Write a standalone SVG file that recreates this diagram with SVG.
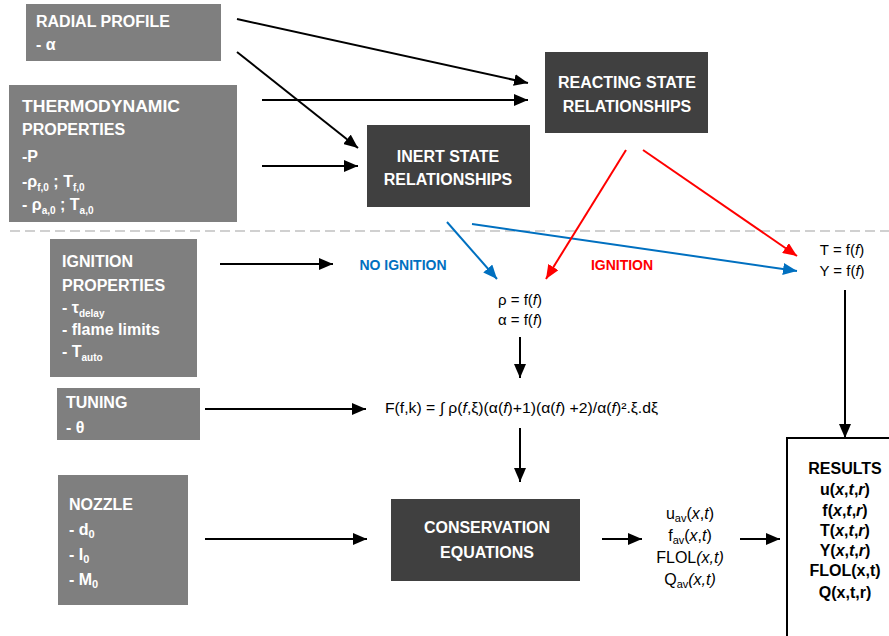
<svg xmlns="http://www.w3.org/2000/svg" width="889" height="636" viewBox="0 0 889 636">
  <style>
    .in { fill: #7f7f7f; }
    .st { fill: #404040; }
    .lbl { font-family: "Liberation Sans", Arial, sans-serif; font-weight: bold; font-size: 16px; fill: #ffffff; }
    .ctr { text-anchor: middle; }
    .eq { font-family: "Liberation Sans", Arial, sans-serif; font-size: 15px; fill: #000000; text-anchor: middle; }
    .out { font-size: 16px; }
    .res { font-family: "Liberation Sans", Arial, sans-serif; font-weight: bold; font-size: 16px; fill: #000000; text-anchor: middle; }
    .k { stroke: #000000; stroke-width: 2; fill: none; marker-end: url(#ak); }
    .b { stroke: #0070C0; stroke-width: 2; fill: none; marker-end: url(#ab); }
    .r { stroke: #FF0000; stroke-width: 2; fill: none; marker-end: url(#ar); }
    .it { font-style: italic; }
  </style>
  <defs>
    <marker id="ak" markerUnits="userSpaceOnUse" markerWidth="14" markerHeight="12" refX="14" refY="6" orient="auto">
      <path d="M0,0 L14,6 L0,12 z" fill="#000000"/>
    </marker>
    <marker id="ab" markerUnits="userSpaceOnUse" markerWidth="14" markerHeight="12" refX="14" refY="6" orient="auto">
      <path d="M0,0 L14,6 L0,12 z" fill="#0070C0"/>
    </marker>
    <marker id="ar" markerUnits="userSpaceOnUse" markerWidth="14" markerHeight="12" refX="14" refY="6" orient="auto">
      <path d="M0,0 L14,6 L0,12 z" fill="#FF0000"/>
    </marker>
  </defs>

  <rect width="889" height="636" fill="#ffffff"/>

  <!-- separator between state relations and the rest -->
  <line x1="10" y1="231" x2="889" y2="231" stroke="#d0d0d0" stroke-width="2" stroke-dasharray="10 5"/>

  <!-- input blocks -->
  <g id="radial-profile">
    <rect class="in" x="26" y="4" width="195" height="57"/>
    <text class="lbl" x="36" y="27">RADIAL PROFILE</text>
    <text class="lbl" x="36" y="50">- α</text>
  </g>

  <g id="thermodynamic-properties">
    <rect class="in" x="9" y="85" width="228" height="137"/>
    <text class="lbl" x="22" y="112" textLength="158" lengthAdjust="spacingAndGlyphs">THERMODYNAMIC</text>
    <text class="lbl" x="22" y="135">PROPERTIES</text>
    <text class="lbl" x="22" y="162">-P</text>
    <text class="lbl" x="22" y="187" font-size="15">-ρ<tspan font-size="10" dy="4">f,0</tspan><tspan dy="-4"> ; T</tspan><tspan font-size="10" dy="4">f,0</tspan></text>
    <text class="lbl" x="22" y="210" font-size="15">- ρ<tspan font-size="10" dy="4">a,0</tspan><tspan dy="-4"> ; T</tspan><tspan font-size="10" dy="4">a,0</tspan></text>
  </g>

  <g id="ignition-properties">
    <rect class="in" x="50" y="239" width="147" height="138"/>
    <text class="lbl" x="62" y="267">IGNITION</text>
    <text class="lbl" x="62" y="291">PROPERTIES</text>
    <text class="lbl" x="62" y="313">- τ<tspan font-size="10" dy="4">delay</tspan></text>
    <text class="lbl" x="62" y="335" font-size="17">- flame limits</text>
    <text class="lbl" x="62" y="357">- T<tspan font-size="10" dy="4">auto</tspan></text>
  </g>

  <g id="tuning">
    <rect class="in" x="57" y="388" width="143" height="52"/>
    <text class="lbl" x="66" y="408">TUNING</text>
    <text class="lbl" x="66" y="433">- θ</text>
  </g>

  <g id="nozzle">
    <rect class="in" x="58" y="475" width="130" height="130"/>
    <text class="lbl" x="69" y="510">NOZZLE</text>
    <text class="lbl" x="69" y="535">- d<tspan font-size="11" dy="3">0</tspan></text>
    <text class="lbl" x="69" y="560">- I<tspan font-size="11" dy="3">0</tspan></text>
    <text class="lbl" x="69" y="585">- M<tspan font-size="11" dy="3">0</tspan></text>
  </g>

  <!-- state relationship and solver blocks -->
  <g id="reacting-state">
    <rect class="st" x="545" y="52" width="163" height="81"/>
    <text class="lbl ctr" x="627" y="88">REACTING STATE</text>
    <text class="lbl ctr" x="627" y="112">RELATIONSHIPS</text>
  </g>

  <g id="inert-state">
    <rect class="st" x="367" y="125" width="163" height="82"/>
    <text class="lbl ctr" x="448" y="162">INERT STATE</text>
    <text class="lbl ctr" x="448" y="185">RELATIONSHIPS</text>
  </g>

  <g id="conservation-equations">
    <rect class="st" x="391" y="499" width="189" height="82"/>
    <text class="lbl ctr" x="487" y="533" font-size="17">CONSERVATION</text>
    <text class="lbl ctr" x="487" y="558" font-size="17">EQUATIONS</text>
  </g>

  <!-- intermediate relations -->
  <g id="mixture-relations">
    <text class="eq" x="520" y="305">ρ = f(<tspan class="it">f</tspan>)</text>
    <text class="eq" x="520" y="325">α = f(<tspan class="it">f</tspan>)</text>
  </g>

  <g id="thermo-relations">
    <text class="eq" x="842" y="255">T = f(<tspan class="it">f</tspan>)</text>
    <text class="eq" x="842" y="276">Y = f(<tspan class="it">f</tspan>)</text>
  </g>

  <g id="kernel">
    <text class="eq" x="385" y="413" style="text-anchor:start" textLength="273" lengthAdjust="spacingAndGlyphs">F(f,k) = ∫ ρ(<tspan class="it">f</tspan>,ξ)(α(<tspan class="it">f</tspan>)+1)(α(<tspan class="it">f</tspan>) +2)/α(<tspan class="it">f</tspan>)².ξ.dξ</text>
  </g>

  <g id="averaged-outputs">
    <text class="eq out" x="690" y="519">u<tspan font-size="11" dy="3">av</tspan><tspan dy="-3">(</tspan><tspan class="it">x</tspan>,<tspan class="it">t</tspan>)</text>
    <text class="eq out" x="690" y="541">f<tspan font-size="11" dy="3">av</tspan><tspan dy="-3">(</tspan><tspan class="it">x</tspan>,<tspan class="it">t</tspan>)</text>
    <text class="eq out" x="690" y="563">FLOL<tspan class="it">(x,t)</tspan></text>
    <text class="eq out" x="690" y="585">Q<tspan font-size="11" dy="3">av</tspan><tspan class="it" dy="-3">(x,t)</tspan></text>
  </g>

  <g id="results">
    <rect x="787" y="438" width="110" height="210" fill="#ffffff" stroke="#000000" stroke-width="2"/>
    <text class="res" x="845" y="474">RESULTS</text>
    <text class="res" x="845" y="495">u(<tspan class="it">x</tspan>,<tspan class="it">t</tspan>,<tspan class="it">r</tspan>)</text>
    <text class="res" x="845" y="516">f(<tspan class="it">x</tspan>,<tspan class="it">t</tspan>,<tspan class="it">r</tspan>)</text>
    <text class="res" x="845" y="536">T(<tspan class="it">x</tspan>,<tspan class="it">t</tspan>,<tspan class="it">r</tspan>)</text>
    <text class="res" x="845" y="556">Y(<tspan class="it">x</tspan>,<tspan class="it">t</tspan>,<tspan class="it">r</tspan>)</text>
    <text class="res" x="845" y="576">FLOL(x,t)</text>
    <text class="res" x="845" y="598">Q(x,t,r)</text>
  </g>

  <!-- connectors -->
  <g id="connectors">
    <line class="k" x1="237" y1="19" x2="528" y2="83"/>
    <line class="k" x1="237" y1="52" x2="358" y2="148"/>
    <line class="k" x1="262" y1="100" x2="528" y2="100"/>
    <line class="k" x1="262" y1="166" x2="358" y2="166"/>
    <line class="k" x1="220" y1="264" x2="333" y2="264"/>
    <line class="b" x1="447" y1="222" x2="497" y2="279"/>
    <line class="b" x1="472" y1="224" x2="797" y2="271"/>
    <line class="r" x1="626" y1="150" x2="546" y2="279"/>
    <line class="r" x1="643" y1="150" x2="797" y2="256"/>
    <line class="k" x1="520" y1="337" x2="520" y2="378"/>
    <line class="k" x1="205" y1="409" x2="366" y2="409"/>
    <line class="k" x1="520" y1="428" x2="520" y2="482"/>
    <line class="k" x1="205" y1="539" x2="367" y2="539"/>
    <line class="k" x1="845" y1="290" x2="845" y2="438"/>
    <line class="k" x1="602" y1="539" x2="642" y2="539"/>
    <line class="k" x1="740" y1="539" x2="780" y2="539"/>
    <text x="403" y="270" font-family="Liberation Sans, Arial, sans-serif" font-weight="bold" font-size="14" fill="#0070C0" text-anchor="middle">NO IGNITION</text>
    <text x="622" y="270" font-family="Liberation Sans, Arial, sans-serif" font-weight="bold" font-size="14" fill="#FF0000" text-anchor="middle">IGNITION</text>
  </g>
</svg>
